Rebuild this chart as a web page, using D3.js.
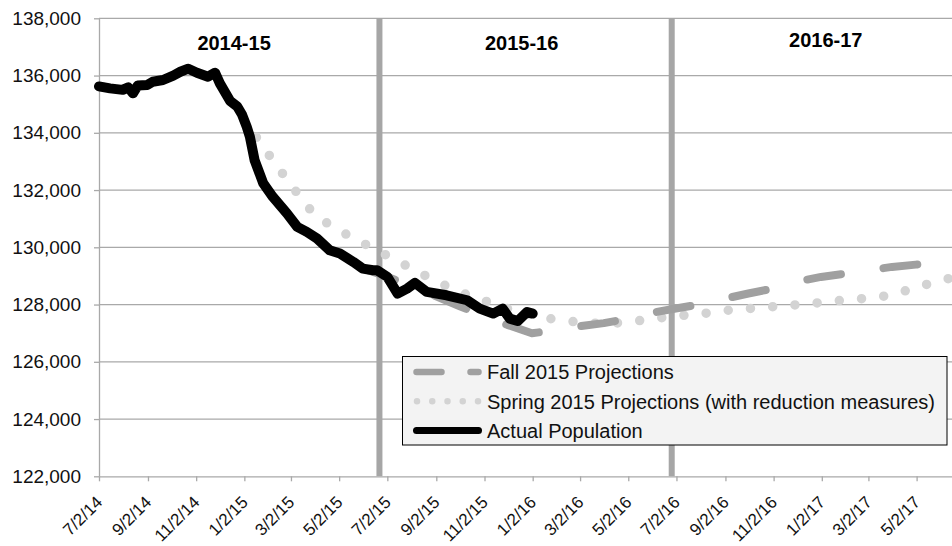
<!DOCTYPE html>
<html>
<head>
<meta charset="utf-8">
<script src="https://cdn.jsdelivr.net/npm/d3@7"></script>
<style>
  body { margin: 0; background: #fff; }
  svg { display: block; font-family: "Liberation Sans", Arial, sans-serif; }
</style>
</head>
<body>
<div id="chart"></div>
<script>
// ---- data ----
const yTicks = [122000, 124000, 126000, 128000, 130000, 132000, 134000, 136000, 138000];
const xTickLabels = ["7/2/14", "9/2/14", "11/2/14", "1/2/15", "3/2/15", "5/2/15", "7/2/15", "9/2/15",
  "11/2/15", "1/2/16", "3/2/16", "5/2/16", "7/2/16", "9/2/16", "11/2/16", "1/2/17", "3/2/17", "5/2/17"];

const actualDates = ["7/2/14", "7/16/14", "8/1/14", "8/8/14", "8/14/14", "8/20/14", "9/1/14", "9/8/14",
  "9/21/14", "10/4/14", "10/13/14", "10/23/14", "11/3/14", "11/17/14", "11/26/14", "12/2/14", "12/15/14",
  "12/24/14", "12/30/14", "1/5/15", "1/9/15", "1/15/15", "1/26/15", "2/7/15", "2/25/15", "3/10/15",
  "3/22/15", "4/4/15", "4/20/15", "5/3/15", "5/20/15", "6/1/15", "6/14/15", "6/19/15", "7/2/15",
  "7/15/15", "7/27/15", "8/6/15", "8/21/15", "9/15/15", "10/11/15", "10/27/15", "11/13/15", "11/25/15",
  "12/4/15", "12/14/15", "12/26/15", "1/2/16"];
const actualValues = [135620, 135552, 135500, 135587, 135380, 135650, 135668, 135783,
  135843, 136000, 136133, 136240, 136100, 135960, 136098, 135727, 135110,
  134920, 134640, 134209, 133860, 133045, 132230, 131762, 131180, 130713,
  130538, 130306, 129898, 129781, 129490, 129257, 129198, 129198, 128965,
  128383, 128558, 128757, 128441, 128324, 128150, 127859, 127684, 127859,
  127509, 127425, 127740, 127684];

const fallDates = ["6/1/15", "7/1/15", "8/1/15", "9/1/15", "10/1/15", "11/1/15", "12/1/15", "1/1/16",
  "2/1/16", "3/1/16", "4/1/16", "5/1/16", "6/1/16", "7/1/16", "8/1/16", "9/1/16", "10/1/16", "11/1/16",
  "12/1/16", "1/1/17", "2/1/17", "3/1/17", "4/1/17", "5/1/17", "6/1/17", "7/1/17"];
const fallValues = [129260, 128980, 128650, 128300, 127950, 127600, 127290, 127000,
  127100, 127240, 127350, 127500, 127715, 127860, 128010, 128205, 128385, 128560,
  128800, 128965, 129080, 129195, 129315, 129395, 129475, 129550];

const springDates = ["1/1/15", "2/1/15", "3/1/15", "4/1/15", "5/1/15", "6/1/15", "7/1/15", "8/1/15",
  "9/1/15", "10/1/15", "11/1/15", "12/1/15", "1/1/16", "2/1/16", "3/1/16", "4/1/16", "5/1/16", "6/1/16",
  "7/1/16", "8/1/16", "9/1/16", "10/1/16", "11/1/16", "12/1/16", "1/1/17", "2/1/17", "3/1/17", "4/1/17",
  "5/1/17", "6/1/17", "7/1/17"];
const springValues = [134480, 133270, 132210, 131120, 130600, 130150, 129720, 129270,
  128820, 128440, 128140, 127860, 127620, 127470, 127380, 127330, 127380, 127500,
  127600, 127670, 127790, 127860, 127925, 127990, 128070, 128160, 128220, 128330,
  128600, 128830, 129050];

const yearLabels = ["2014-15", "2015-16", "2016-17"];
const yearLabelDates = ["12/20/14", "12/19/15", "1/7/17"];
const yearBoundaryDates = ["6/22/15", "6/26/16"];

const legendNames = ["Fall 2015 Projections", "Spring 2015 Projections (with reduction measures)", "Actual Population"];

// ---- setup ----
const width = 952, height = 546;
const parse = d3.timeParse("%m/%d/%y");

const svg = d3.select("#chart").append("svg")
  .attr("width", width)
  .attr("height", height);

const x = d3.scaleTime()
  .domain([parse("7/2/14"), parse("7/1/17")])
  .range([99, 964]);

const y = d3.scaleLinear()
  .domain([122000, 138000])
  .range([476.3, 18.3]);

const gridColor = "#a9a9a9";

// horizontal gridlines
svg.append("g")
  .selectAll("line")
  .data(yTicks.slice(1))
  .join("line")
  .attr("x1", 99)
  .attr("x2", width)
  .attr("y1", d => y(d))
  .attr("y2", d => y(d))
  .attr("stroke", gridColor)
  .attr("stroke-width", 1.3);

// fiscal year boundaries
svg.append("g")
  .selectAll("line")
  .data(yearBoundaryDates)
  .join("line")
  .attr("x1", d => x(parse(d)))
  .attr("x2", d => x(parse(d)))
  .attr("y1", y(138000))
  .attr("y2", y(122000))
  .attr("stroke", "#a6a6a6")
  .attr("stroke-width", 6);

// axes
const yAxis = svg.append("g")
  .attr("transform", "translate(99,0)")
  .call(d3.axisLeft(y).tickValues(yTicks).tickSize(5).tickSizeOuter(0).tickFormat(d3.format(",")));
yAxis.select(".domain").attr("stroke", gridColor).attr("stroke-width", 1.3);
yAxis.selectAll(".tick line").attr("stroke", gridColor).attr("stroke-width", 1.3);
yAxis.selectAll(".tick text")
  .attr("x", -18)
  .attr("font-size", 19)
  .attr("font-family", "Liberation Sans, Arial, sans-serif")
  .attr("fill", "#111");

const xAxis = svg.append("g")
  .attr("transform", `translate(0,${y(122000)})`)
  .call(d3.axisBottom(x)
    .tickValues(xTickLabels.map(parse))
    .tickSize(5)
    .tickSizeOuter(0)
    .tickFormat((d, i) => xTickLabels[i]));
xAxis.select(".domain").attr("stroke", gridColor).attr("stroke-width", 1.3);
xAxis.selectAll(".tick line").attr("stroke", gridColor).attr("stroke-width", 1.3);
xAxis.selectAll(".tick text")
  .attr("font-size", 17)
  .attr("font-family", "Liberation Sans, Arial, sans-serif")
  .attr("fill", "#111")
  .attr("text-anchor", "end")
  .attr("y", 0)
  .attr("dy", 0)
  .attr("transform", "translate(4,27) rotate(-45)");

// series
const line = d3.line()
  .x(d => x(parse(d[0])))
  .y(d => y(d[1]));

svg.append("path")
  .datum(d3.zip(springDates, springValues))
  .attr("d", line)
  .attr("fill", "none")
  .attr("stroke", "#d3d3d3")
  .attr("stroke-width", 9.5)
  .attr("stroke-linecap", "round")
  .attr("stroke-dasharray", "0,22.3");

svg.append("path")
  .datum(d3.zip(fallDates, fallValues))
  .attr("d", line)
  .attr("fill", "none")
  .attr("stroke", "#a0a0a0")
  .attr("stroke-width", 8)
  .attr("stroke-linecap", "round")
  .attr("stroke-linejoin", "round")
  .attr("stroke-dasharray", "34,43");

svg.append("path")
  .datum(d3.zip(actualDates, actualValues))
  .attr("d", line)
  .attr("fill", "none")
  .attr("stroke", "#000")
  .attr("stroke-width", 10)
  .attr("stroke-linecap", "round")
  .attr("stroke-linejoin", "round");

// fiscal year labels
svg.append("g")
  .selectAll("text")
  .data(yearLabels)
  .join("text")
  .attr("x", (d, i) => x(parse(yearLabelDates[i])))
  .attr("y", (d, i) => i === 2 ? 47 : 50)
  .attr("text-anchor", "middle")
  .attr("font-size", 20)
  .attr("font-weight", "bold")
  .text(d => d);

// legend
const legend = svg.append("g").attr("transform", "translate(402.5,356.5)");
legend.append("rect")
  .attr("width", 544.5)
  .attr("height", 88.5)
  .attr("fill", "#f3f3f3")
  .attr("stroke", "#000")
  .attr("stroke-width", 1);

const legendStyles = [
  { color: "#a0a0a0", width: 6.5, dash: "25,29", x1: 14, x2: 76 },
  { color: "#d3d3d3", width: 6.5, dash: "0,15.25", x1: 14.5, x2: 76 },
  { color: "#000", width: 7, dash: null, x1: 14, x2: 76 }
];

const rows = legend.selectAll("g.row")
  .data(legendNames)
  .join("g")
  .attr("class", "row")
  .attr("transform", (d, i) => `translate(0,${15.5 + i * 29.3})`);

rows.append("line")
  .attr("x1", (d, i) => legendStyles[i].x1)
  .attr("x2", (d, i) => legendStyles[i].x2)
  .attr("stroke", (d, i) => legendStyles[i].color)
  .attr("stroke-width", (d, i) => legendStyles[i].width)
  .attr("stroke-linecap", "round")
  .attr("stroke-dasharray", (d, i) => legendStyles[i].dash);

rows.append("text")
  .attr("x", 84.5)
  .attr("dy", "0.36em")
  .attr("font-size", 20)
  .attr("fill", "#111")
  .text(d => d);
</script>
</body>
</html>
